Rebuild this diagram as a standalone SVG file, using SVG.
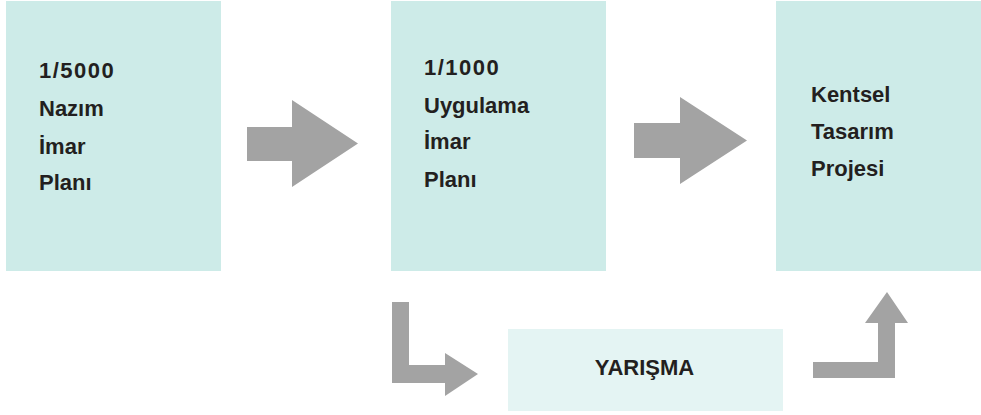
<svg xmlns="http://www.w3.org/2000/svg" width="981" height="415" viewBox="0 0 981 415">
<style>
.box{fill:#cdebe8}
.box2{fill:#e4f4f3}
.arr{fill:#a3a3a3}
.t{font-family:"Liberation Sans",Arial,sans-serif;font-weight:bold;font-size:22px;fill:#231f20}
.n{letter-spacing:1.5px}
</style>
<rect width="981" height="415" fill="#ffffff"/>
<g id="node-5000">
<rect class="box" x="6" y="1" width="215" height="270"/>
<text class="t n" x="39" y="78">1/5000</text>
<text class="t" x="39" y="116">Nazım</text>
<text class="t" x="39" y="154">İmar</text>
<text class="t" x="39" y="190">Planı</text>
</g>
<g id="node-1000">
<rect class="box" x="391" y="1" width="215" height="270"/>
<text class="t n" x="424" y="75">1/1000</text>
<text class="t" x="424" y="113">Uygulama</text>
<text class="t" x="424" y="149">İmar</text>
<text class="t" x="424" y="187">Planı</text>
</g>
<g id="node-kentsel">
<rect class="box" x="776" y="1" width="205" height="270"/>
<text class="t" x="811" y="102">Kentsel</text>
<text class="t" x="811" y="139">Tasarım</text>
<text class="t" x="811" y="176">Projesi</text>
</g>
<g id="node-yarisma">
<rect class="box2" x="508" y="329" width="275" height="82"/>
<text class="t" x="644.5" y="375" text-anchor="middle">YARIŞMA</text>
</g>
<g id="connectors">
<polygon class="arr" points="247,127 292,127 292,100 358,143.5 292,187 292,161 247,161"/>
<polygon class="arr" points="634,123 680,123 680,97 747,140.5 680,184 680,158 634,158"/>
<polygon class="arr" points="392,302 409,302 409,365 445,365 445,353 478,374 445,396 445,383 392,383"/>
<polygon class="arr" points="813,362 878,362 878,323 865,323 887,292 908,323 895,323 895,378 813,378"/>
</g>
</svg>
